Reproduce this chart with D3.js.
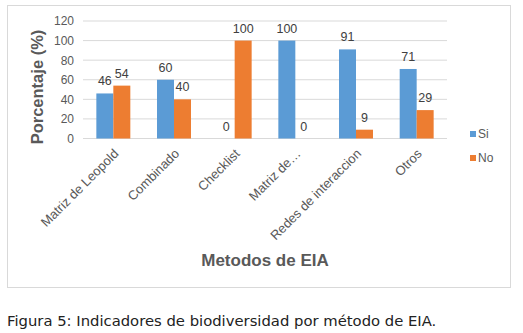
<!DOCTYPE html>
<html>
<head>
<meta charset="utf-8">
<script src="https://cdn.jsdelivr.net/npm/d3@7"></script>
<style>
  body { margin: 0; background: #fff; }
  svg { display: block; }
</style>
</head>
<body>
<div id="chart"></div>
<script>
const metodos = ["Matriz de Leopold", "Combinado", "Checklist", "Matriz de…", "Redes de interaccion", "Otros"];
const series = ["Si", "No"];
const siValues = [46, 60, 0, 100, 91, 71];
const noValues = [54, 40, 100, 0, 9, 29];
const yTicks = [0, 20, 40, 60, 80, 100, 120];
const colors = { Si: "#5B9BD5", No: "#ED7D31" };

const width = 523, height = 333;
const svg = d3.select("#chart").append("svg")
  .attr("width", width)
  .attr("height", height);

// chart frame
svg.append("rect")
  .attr("x", 7.5).attr("y", 5.5)
  .attr("width", 503).attr("height", 282)
  .attr("fill", "#fff")
  .attr("stroke", "#d9d9d9");

const plot = { left: 83, right: 447, top: 21, bottom: 138.5 };

const x = d3.scaleBand()
  .domain(metodos)
  .range([plot.left, plot.right])
  .paddingInner(0.44)
  .paddingOuter(0.22);

const xs = d3.scaleBand()
  .domain(series)
  .range([0, x.bandwidth()]);

const y = d3.scaleLinear()
  .domain([0, 120])
  .range([plot.bottom, plot.top]);

// gridlines
svg.append("g")
  .selectAll("line")
  .data(yTicks)
  .join("line")
  .attr("x1", plot.left).attr("x2", plot.right)
  .attr("y1", d => y(d)).attr("y2", d => y(d))
  .attr("stroke", "#d9d9d9")
  .attr("stroke-width", 1);

// y tick labels
const yAxis = svg.append("g")
  .attr("transform", `translate(${plot.left},0)`)
  .call(d3.axisLeft(y).tickValues(yTicks).tickSize(0).tickPadding(9));
yAxis.select(".domain").remove();
yAxis.selectAll("text")
  .attr("fill", "#595959")
  .attr("font-family", "Liberation Sans, Arial, sans-serif")
  .attr("font-size", "12px");

const rows = metodos.map((m, i) => ({ metodo: m, Si: siValues[i], No: noValues[i] }));

const groups = svg.append("g")
  .selectAll("g")
  .data(rows)
  .join("g")
  .attr("transform", d => `translate(${x(d.metodo)},0)`);

groups.selectAll("rect")
  .data(d => series.map(s => ({ key: s, value: d[s] })))
  .join("rect")
  .attr("x", d => xs(d.key))
  .attr("width", xs.bandwidth())
  .attr("y", d => y(d.value))
  .attr("height", d => y(0) - y(d.value))
  .attr("fill", d => colors[d.key]);

groups.selectAll("text")
  .data(d => series.map(s => ({ key: s, value: d[s] })))
  .join("text")
  .attr("x", d => xs(d.key) + xs.bandwidth() / 2)
  .attr("y", d => y(d.value) - 8)
  .attr("text-anchor", "middle")
  .attr("fill", "#404040")
  .attr("font-family", "Liberation Sans, Arial, sans-serif")
  .attr("font-size", "12.5px")
  .text(d => d.value);

// x axis labels rotated
const xAxis = svg.append("g")
  .attr("transform", `translate(0,${plot.bottom})`)
  .call(d3.axisBottom(x).tickSize(0).tickPadding(0));
xAxis.select(".domain").remove();
xAxis.selectAll("text")
  .attr("fill", "#595959")
  .attr("font-family", "Liberation Sans, Arial, sans-serif")
  .attr("font-size", "13px")
  .attr("text-anchor", "end")
  .attr("dy", null)
  .attr("transform", "translate(6,16) rotate(-45)");

// axis titles
svg.append("text")
  .attr("x", 265).attr("y", 266)
  .attr("text-anchor", "middle")
  .attr("fill", "#595959")
  .attr("font-family", "Liberation Sans, Arial, sans-serif")
  .attr("font-weight", "bold")
  .attr("font-size", "17px")
  .text("Metodos de EIA");

svg.append("text")
  .attr("transform", "translate(43,87) rotate(-90)")
  .attr("text-anchor", "middle")
  .attr("fill", "#595959")
  .attr("font-family", "Liberation Sans, Arial, sans-serif")
  .attr("font-weight", "bold")
  .attr("font-size", "16.5px")
  .text("Porcentaje (%)");

// legend
const legend = svg.append("g")
  .selectAll("g")
  .data(series)
  .join("g")
  .attr("transform", (d, i) => `translate(470,${131 + i * 24})`);

legend.append("rect")
  .attr("width", 6).attr("height", 6)
  .attr("fill", d => colors[d]);

legend.append("text")
  .attr("x", 8).attr("y", 7)
  .attr("fill", "#595959")
  .attr("font-family", "Liberation Sans, Arial, sans-serif")
  .attr("font-size", "12px")
  .text(d => d);

// caption
svg.append("text")
  .attr("x", 7).attr("y", 326)
  .attr("fill", "#222")
  .attr("font-family", "DejaVu Sans, sans-serif")
  .attr("font-size", "14.8px")
  .text("Figura 5: Indicadores de biodiversidad por método de EIA.");
</script>
</body>
</html>
